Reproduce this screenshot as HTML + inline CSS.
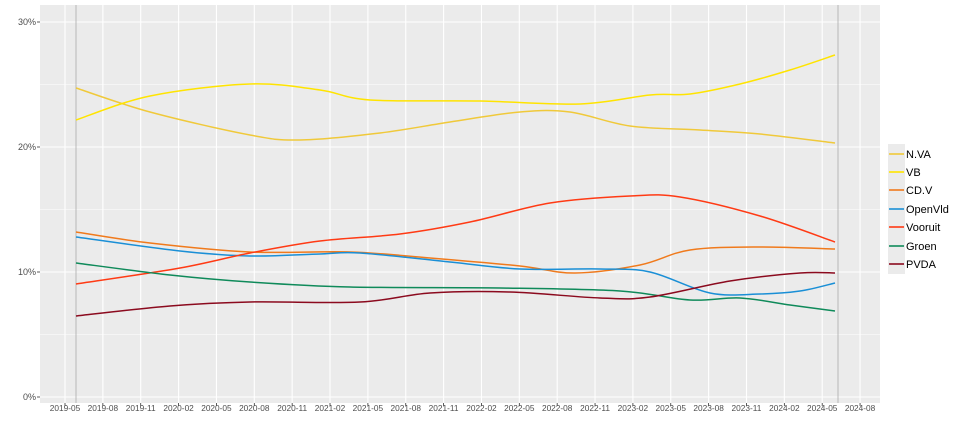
<!DOCTYPE html><html><head><style>body{margin:0;background:#fff}svg{display:block;font-family:"Liberation Sans",sans-serif}</style></head><body>
<svg width="960" height="427" viewBox="0 0 960 427">
<rect x="40" y="5" width="840" height="398" fill="#ebebeb"/>
<g stroke="#fff" stroke-width="0.5">
<line x1="40" x2="880" y1="84.5" y2="84.5"/><line x1="40" x2="880" y1="209.5" y2="209.5"/><line x1="40" x2="880" y1="334.5" y2="334.5"/>
</g>
<g stroke="#fff" stroke-width="1.1">
<line x1="40" x2="880" y1="22" y2="22"/><line x1="40" x2="880" y1="147" y2="147"/><line x1="40" x2="880" y1="272" y2="272"/><line x1="40" x2="880" y1="397" y2="397"/>
</g>
<g id="vg" stroke="#fff" stroke-width="1.1"></g>
<line x1="76" x2="76" y1="5" y2="403" stroke="#aaa" stroke-width="0.8"/>
<line x1="838" x2="838" y1="5" y2="403" stroke="#aaa" stroke-width="0.8"/>
<g id="ser" fill="none" stroke-width="1.5" stroke-linejoin="round">
<polyline stroke="#f0c93a" points="76,88 150,112 250,135 300,140 380,133 450,122 520,112 570,112 630,126 700,130 760,134 835,143"/>
<polyline stroke="#ffe400" points="76,120 150,96 250,84 320,90 370,100 480,101 580,104 650,95 690,94 740,84 790,70 835,55"/>
<polyline stroke="#f07a1c" points="76,232 150,243 250,252 350,252 430,258 520,266 575,273 640,265 690,250 760,247 835,249"/>
<polyline stroke="#1a8fd6" points="76,237 180,251 250,256 320,254 360,253 450,262 520,269 600,269 650,272 710,293 760,294 800,291 835,283"/>
<polyline stroke="#ff3a14" points="76,284 180,268 250,253 320,241 400,234 470,222 550,203 630,196 680,197 760,216 835,242"/>
<polyline stroke="#0f8a5a" points="76,263 170,275 250,282 350,287 500,288 620,291 690,300 740,298 790,305 835,311"/>
<polyline stroke="#8b0a1e" points="76,316 170,306 250,302 360,302 430,293 510,292 600,298 650,297 730,281 800,273 835,273"/>
</g>
<g font-size="9" fill="#4d4d4d" text-anchor="end">
<text x="36" y="25">30%</text><text x="36" y="150">20%</text><text x="36" y="275">10%</text><text x="36" y="400">0%</text>
</g>
<g stroke="#333" stroke-width="0.8"><line x1="37" x2="40" y1="22" y2="22"/><line x1="37" x2="40" y1="147" y2="147"/><line x1="37" x2="40" y1="272" y2="272"/><line x1="37" x2="40" y1="397" y2="397"/></g>
<g id="xl" font-size="8.3" fill="#4d4d4d" text-anchor="middle"></g>
<rect x="888" y="144" width="17" height="130" fill="#ebebeb"/>
<g stroke-width="1.6">
<line x1="889" x2="904" y1="154" y2="154" stroke="#f0c93a"/>
<line x1="889" x2="904" y1="172" y2="172" stroke="#ffe400"/>
<line x1="889" x2="904" y1="190" y2="190" stroke="#f07a1c"/>
<line x1="889" x2="904" y1="209" y2="209" stroke="#1a8fd6"/>
<line x1="889" x2="904" y1="227" y2="227" stroke="#ff3a14"/>
<line x1="889" x2="904" y1="246" y2="246" stroke="#0f8a5a"/>
<line x1="889" x2="904" y1="264" y2="264" stroke="#8b0a1e"/>
</g>
<g font-size="11" fill="#000">
<text x="906" y="158">N.VA</text><text x="906" y="176">VB</text><text x="906" y="194">CD.V</text><text x="906" y="213">OpenVld</text><text x="906" y="231">Vooruit</text><text x="906" y="250">Groen</text><text x="906" y="268">PVDA</text>
</g>
</svg>
<script>
var L=["2019-05","2019-08","2019-11","2020-02","2020-05","2020-08","2020-11","2021-02","2021-05","2021-08","2021-11","2022-02","2022-05","2022-08","2022-11","2023-02","2023-05","2023-08","2023-11","2024-02","2024-05","2024-08"];
var ns="http://www.w3.org/2000/svg",vg=document.getElementById("vg"),xl=document.getElementById("xl");
L.forEach(function(t,i){var x=65+i*37.86;
var l=document.createElementNS(ns,"line");l.setAttribute("x1",x);l.setAttribute("x2",x);l.setAttribute("y1",5);l.setAttribute("y2",403);vg.appendChild(l);
var k=document.createElementNS(ns,"line");k.setAttribute("x1",x);k.setAttribute("x2",x);k.setAttribute("y1",403);k.setAttribute("y2",406);k.setAttribute("stroke","#333");k.setAttribute("stroke-width","0.8");xl.appendChild(k);
var tx=document.createElementNS(ns,"text");tx.setAttribute("x",x);tx.setAttribute("y",411);tx.textContent=t;xl.appendChild(tx);});
var ser=document.getElementById("ser");
Array.prototype.slice.call(ser.querySelectorAll("polyline")).forEach(function(pl){
var p=pl.getAttribute("points").trim().split(/\s+/).map(function(s){return s.split(",").map(Number)});
var d="M"+p[0][0]+","+p[0][1];
for(var i=0;i<p.length-1;i++){var p0=p[i-1]||p[i],p1=p[i],p2=p[i+1],p3=p[i+2]||p2;
d+=" C"+(p1[0]+(p2[0]-p0[0])/6)+","+(p1[1]+(p2[1]-p0[1])/6)+" "+(p2[0]-(p3[0]-p1[0])/6)+","+(p2[1]-(p3[1]-p1[1])/6)+" "+p2[0]+","+p2[1];}
var path=document.createElementNS(ns,"path");path.setAttribute("d",d);path.setAttribute("stroke",pl.getAttribute("stroke"));ser.replaceChild(path,pl);});
</script>
</body></html>
